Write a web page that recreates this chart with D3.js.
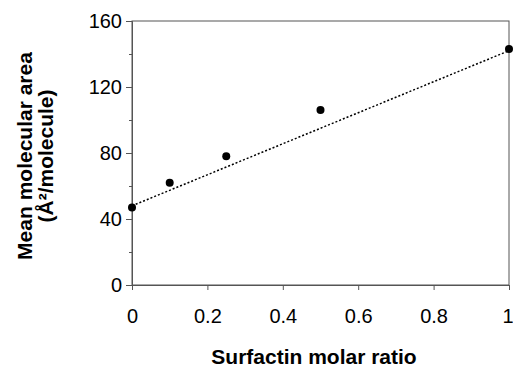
<!DOCTYPE html>
<html>
<head>
<meta charset="utf-8">
<style>
  body { margin: 0; background: #fff; }
  text { font-family: "Liberation Sans", Arial, sans-serif; }
</style>
</head>
<body>
<svg width="513" height="369"></svg>
<script src="https://d3js.org/d3.v7.min.js"></script>
<script>
// measured points
var ratio = [0, 0.1, 0.25, 0.5, 1];
var area = [47, 62, 78, 106, 143];
// dotted fit line, end points
var fitX = [0, 1];
var fitY = [48, 142];

var xTicks = [0, 0.2, 0.4, 0.6, 0.8, 1];
var yTicks = [0, 40, 80, 120, 160];
var yMinor = [20, 60, 100, 140];

var svg = d3.select("svg");
var margin = {top: 21, right: 4, bottom: 84, left: 132};
var width = +svg.attr("width") - margin.left - margin.right,
    height = +svg.attr("height") - margin.top - margin.bottom;

var g = svg.append("g").attr("transform", "translate(" + margin.left + "," + margin.top + ")");

var x = d3.scaleLinear().domain([0, 1]).range([0, width]);
var y = d3.scaleLinear().domain([0, 160]).range([height, 0]);

// frame
g.append("rect")
    .attr("width", width).attr("height", height)
    .attr("fill", "none").attr("stroke", "#555").attr("stroke-width", 1);

var xAxis = g.append("g")
    .attr("transform", "translate(0," + height + ")")
    .call(d3.axisBottom(x).tickValues(xTicks).tickSize(5).tickPadding(19)
        .tickFormat(function(d) { return d3.format("")(d); }));

var yAxis = g.append("g")
    .call(d3.axisLeft(y).tickValues(yTicks).tickSize(6).tickPadding(4));

g.append("g")
    .call(d3.axisLeft(y).tickValues(yMinor).tickSize(3).tickFormat(""))
    .select(".domain").remove();

[xAxis, yAxis].forEach(function(a) {
    a.select(".domain").attr("stroke", "#555");
    a.selectAll("text").attr("font-size", 20).attr("fill", "#000");
});
g.selectAll(".tick line").attr("stroke", "#555");

// last x label sits on the right edge; keep it inside
xAxis.selectAll(".tick text").filter(function(d) { return d === 1; })
    .attr("text-anchor", "end").attr("dx", 4);

// fit line
var line = d3.line().x(function(d) { return x(d[0]); }).y(function(d) { return y(d[1]); });
g.append("path")
    .datum(d3.zip(fitX, fitY))
    .attr("d", line)
    .attr("fill", "none")
    .attr("stroke", "#000")
    .attr("stroke-width", 1.5)
    .attr("stroke-dasharray", "2,2");

g.selectAll(".pt")
    .data(d3.zip(ratio, area))
    .enter().append("circle")
    .attr("class", "pt")
    .attr("cx", function(d) { return x(d[0]); })
    .attr("cy", function(d) { return y(d[1]); })
    .attr("r", 4)
    .attr("fill", "#000");

// titles
svg.append("text")
    .attr("x", 314)
    .attr("y", 364)
    .attr("text-anchor", "middle")
    .attr("font-size", 21)
    .attr("font-weight", "bold")
    .text("Surfactin molar ratio");

var yt = svg.append("text")
    .attr("transform", "translate(0,156) rotate(-90)")
    .attr("text-anchor", "middle")
    .attr("font-size", 21)
    .attr("font-weight", "bold");
yt.append("tspan").attr("x", 0).attr("y", 32).text("Mean molecular area");
yt.append("tspan").attr("x", 0).attr("y", 53).text("(Å²/molecule)");
</script>
</body>
</html>
